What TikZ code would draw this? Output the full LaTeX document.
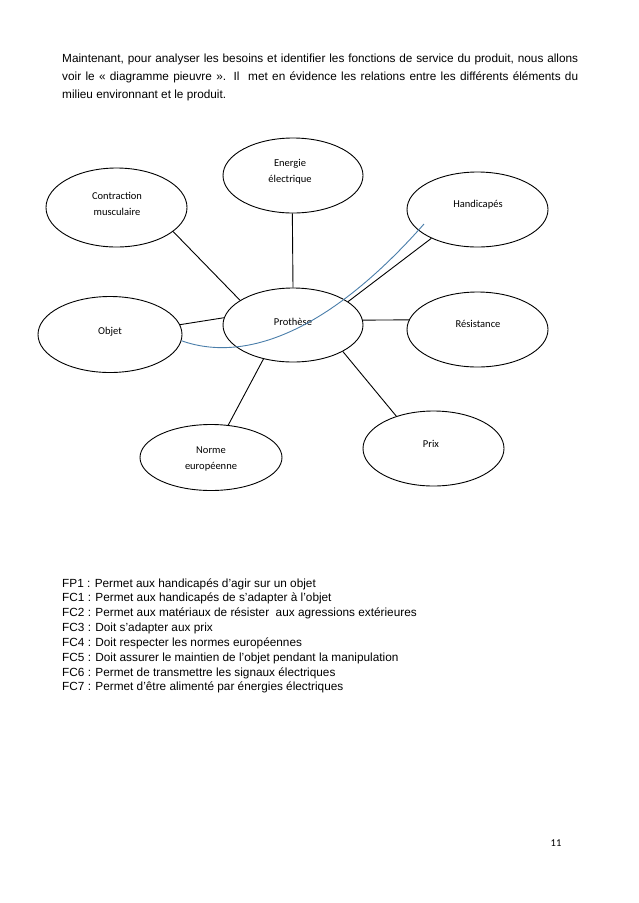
\documentclass[tikz,border=0pt]{standalone}
\usepackage{fontspec}
\setmainfont{Liberation Sans}
\newfontfamily\calib{Carlito}
\usetikzlibrary{shapes.geometric}
\definecolor{curveblue}{RGB}{74,126,170}
\begin{document}
\begin{tikzpicture}[x=1pt,y=-1pt,
  oval/.style={draw=black, line width=0.9pt, ellipse, inner sep=0pt},
  lbl/.style={font=\calib\fontsize{10.5}{16}\selectfont, align=center, inner sep=0pt},
  link/.style={draw=black, line width=0.9pt},
  txt/.style={font=\fontsize{11.8}{15}\selectfont, inner sep=0pt, anchor=base west},
  pagenum/.style={font=\calib\fontsize{10.5}{12}\selectfont, inner sep=0pt}]
\path[use as bounding box, fill=white] (0,0) rectangle (638,903);

% paragraph
\node[txt] (p1) at (62,62) {\makebox[516pt][s]{Maintenant, pour analyser les besoins et identifier les fonctions de service du produit, nous allons}};
\node[txt] (p2) at (62,80) {\makebox[516pt][s]{voir le « diagramme pieuvre ». Il\ \ met en évidence les relations entre les différents éléments du}};
\node[txt] (p3) at (62,98) {milieu environnant et le produit.};

% ellipses
\node[oval, minimum width=140pt, minimum height=75pt] (energie) at (293,175.5) {};
\node[oval, minimum width=141pt, minimum height=79pt] (contr) at (116.5,207.5) {};
\node[oval, minimum width=141pt, minimum height=75pt] (handi) at (477.5,209.5) {};
\node[oval, minimum width=140pt, minimum height=74pt] (prot) at (293,325) {};
\node[oval, minimum width=144pt, minimum height=76pt] (objet) at (110,334.5) {};
\node[oval, minimum width=141pt, minimum height=75pt] (resist) at (477.5,329.5) {};
\node[oval, minimum width=142pt, minimum height=66pt] (norme) at (211,457.5) {};
\node[oval, minimum width=141pt, minimum height=75pt] (prix) at (433.5,448.5) {};

% labels
\node[lbl] (tenergie) at (290,172) {Energie\\électrique};
\node[lbl] (tcontr) at (117,204) {Contraction\\musculaire};
\node[lbl] (thandi) at (478,205) {Handicapés};
\node[lbl] (tprot) at (293,322) {Prothèse};
\node[lbl] (tobjet) at (110,332) {Objet};
\node[lbl] (tresist) at (478,324) {Résistance};
\node[lbl] (tnorme) at (211,458.5) {Norme\\européenne};
\node[lbl] (tprix) at (431,444) {Prix};

% connectors
\draw[link] (contr.-23.7) -- (prot.155.2);
\draw[link] (energie.-91.5) -- (prot.90);
\draw[link] (objet.8.9) -- (prot.174.2);
\draw[link] (handi.-148.9) -- (prot.23.7);
\draw[link] (resist.172.7) -- (prot.4.1);
\draw[link] (prot.-131.5) -- (norme.62);
\draw[link] (prot.-28.3) -- (prix.139.2);

% blue curve
\coordinate (cend) at (424,224);
\draw[curveblue, line width=0.9pt] (objet.-5.6) .. controls (250,365) and (335,325) .. (cend);

% list
\node[txt] (l1) at (62,587) {FP1 : Permet aux handicapés d’agir sur un objet};
\node[txt] (l2) at (62,601.85) {FC1 : Permet aux handicapés de s’adapter à l’objet};
\node[txt] (l3) at (62,616.7) {FC2 : Permet aux matériaux de résister\ \ aux agressions extérieures};
\node[txt] (l4) at (62,631.55) {FC3 : Doit s’adapter aux prix};
\node[txt] (l5) at (62,646.4) {FC4 : Doit respecter les normes européennes};
\node[txt] (l6) at (62,661.25) {FC5 : Doit assurer le maintien de l’objet pendant la manipulation};
\node[txt] (l7) at (62,676.1) {FC6 : Permet de transmettre les signaux électriques};
\node[txt] (l8) at (62,690.95) {FC7 : Permet d’être alimenté par énergies électriques};

\node[pagenum] (pn) at (556,843) {11};
\end{tikzpicture}
\end{document}
